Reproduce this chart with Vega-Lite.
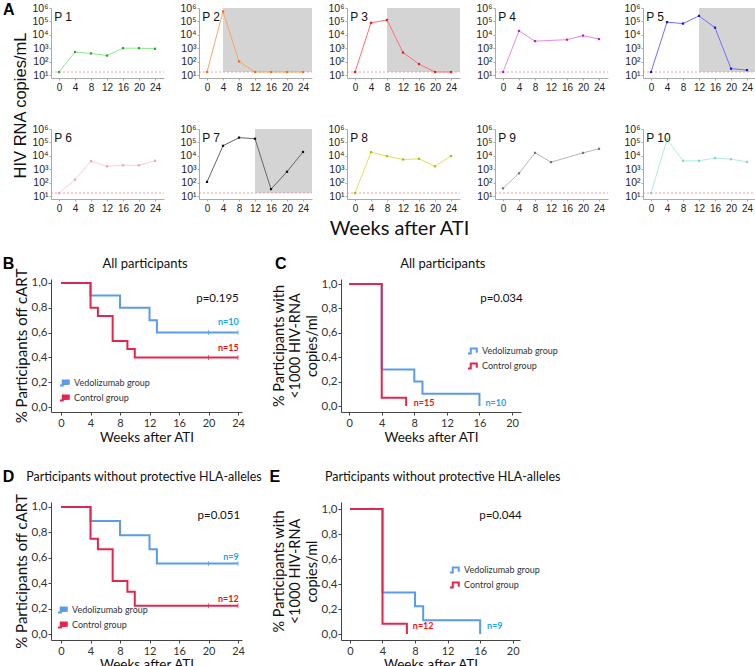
{
"$schema":"https://vega.github.io/schema/vega-lite/v6.json",
"padding":{"left":2,"top":1,"right":0,"bottom":0},
"background":"white",
"spacing":17,
"resolve":{"scale":{"color":"independent"},"legend":{"color":"independent"}},
"config":{"view":{"stroke":null},"font":"Liberation Sans","axis":{"grid":false,"labelOverlap":false,"tickCount":30}},
"datasets":{
"rna":[
{"p":"P 1","week":0,"rna":18},{"p":"P 1","week":4,"rna":550},{"p":"P 1","week":8,"rna":430},{"p":"P 1","week":12,"rna":300},{"p":"P 1","week":16,"rna":1050},{"p":"P 1","week":20,"rna":1050},{"p":"P 1","week":24,"rna":950},
{"p":"P 2","week":0,"rna":18},{"p":"P 2","week":4,"rna":550000},{"p":"P 2","week":8,"rna":110},{"p":"P 2","week":12,"rna":18},{"p":"P 2","week":16,"rna":18},{"p":"P 2","week":20,"rna":18},{"p":"P 2","week":24,"rna":18},
{"p":"P 3","week":0,"rna":18},{"p":"P 3","week":4,"rna":80000},{"p":"P 3","week":8,"rna":130000},{"p":"P 3","week":12,"rna":500},{"p":"P 3","week":16,"rna":70},{"p":"P 3","week":20,"rna":18},{"p":"P 3","week":24,"rna":18},
{"p":"P 4","week":0,"rna":18},{"p":"P 4","week":4,"rna":20000},{"p":"P 4","week":8,"rna":3500},{"p":"P 4","week":16,"rna":4500},{"p":"P 4","week":20,"rna":9000},{"p":"P 4","week":24,"rna":5000},
{"p":"P 5","week":0,"rna":18},{"p":"P 5","week":4,"rna":90000},{"p":"P 5","week":8,"rna":70000},{"p":"P 5","week":12,"rna":260000},{"p":"P 5","week":16,"rna":35000},{"p":"P 5","week":20,"rna":32},{"p":"P 5","week":24,"rna":25},
{"p":"P 6","week":0,"rna":18},{"p":"P 6","week":4,"rna":175},{"p":"P 6","week":8,"rna":4100},{"p":"P 6","week":12,"rna":1700},{"p":"P 6","week":16,"rna":2050},{"p":"P 6","week":20,"rna":2050},{"p":"P 6","week":24,"rna":4400},
{"p":"P 7","week":0,"rna":120},{"p":"P 7","week":4,"rna":57000},{"p":"P 7","week":8,"rna":230000},{"p":"P 7","week":12,"rna":190000},{"p":"P 7","week":16,"rna":35},{"p":"P 7","week":20,"rna":680},{"p":"P 7","week":24,"rna":20000},
{"p":"P 8","week":0,"rna":18},{"p":"P 8","week":4,"rna":19000},{"p":"P 8","week":8,"rna":9800},{"p":"P 8","week":12,"rna":5500},{"p":"P 8","week":16,"rna":6200},{"p":"P 8","week":20,"rna":1700},{"p":"P 8","week":24,"rna":9800},
{"p":"P 9","week":0,"rna":40},{"p":"P 9","week":4,"rna":520},{"p":"P 9","week":8,"rna":17000},{"p":"P 9","week":12,"rna":3500},{"p":"P 9","week":20,"rna":17000},{"p":"P 9","week":24,"rna":34000},
{"p":"P 10","week":0,"rna":18},{"p":"P 10","week":4,"rna":170000},{"p":"P 10","week":8,"rna":4400},{"p":"P 10","week":12,"rna":4400},{"p":"P 10","week":16,"rna":7000},{"p":"P 10","week":20,"rna":5800},{"p":"P 10","week":24,"rna":3700}
],
"shade":[{"p":"P 2","week":4},{"p":"P 3","week":8},{"p":"P 5","week":12},{"p":"P 7","week":12}],
"km":[
{"panel":"B","group":"Vedolizumab group","week":0,"surv":1},{"panel":"B","group":"Vedolizumab group","week":4,"surv":0.9},{"panel":"B","group":"Vedolizumab group","week":8,"surv":0.8},{"panel":"B","group":"Vedolizumab group","week":12,"surv":0.7},{"panel":"B","group":"Vedolizumab group","week":13,"surv":0.6},{"panel":"B","group":"Vedolizumab group","week":24,"surv":0.6},
{"panel":"B","group":"Control group","week":0,"surv":1},{"panel":"B","group":"Control group","week":4,"surv":0.8},{"panel":"B","group":"Control group","week":5,"surv":0.733},{"panel":"B","group":"Control group","week":7,"surv":0.533},{"panel":"B","group":"Control group","week":9,"surv":0.467},{"panel":"B","group":"Control group","week":10,"surv":0.4},{"panel":"B","group":"Control group","week":24,"surv":0.4},
{"panel":"C","group":"Vedolizumab group","week":0,"surv":1},{"panel":"C","group":"Vedolizumab group","week":4,"surv":0.3},{"panel":"C","group":"Vedolizumab group","week":8,"surv":0.2},{"panel":"C","group":"Vedolizumab group","week":9,"surv":0.1},{"panel":"C","group":"Vedolizumab group","week":16,"surv":0},
{"panel":"C","group":"Control group","week":0,"surv":1},{"panel":"C","group":"Control group","week":4,"surv":0.067},{"panel":"C","group":"Control group","week":7,"surv":0},
{"panel":"D","group":"Vedolizumab group","week":0,"surv":1},{"panel":"D","group":"Vedolizumab group","week":4,"surv":0.889},{"panel":"D","group":"Vedolizumab group","week":8,"surv":0.778},{"panel":"D","group":"Vedolizumab group","week":12,"surv":0.667},{"panel":"D","group":"Vedolizumab group","week":13,"surv":0.556},{"panel":"D","group":"Vedolizumab group","week":24,"surv":0.556},
{"panel":"D","group":"Control group","week":0,"surv":1},{"panel":"D","group":"Control group","week":4,"surv":0.75},{"panel":"D","group":"Control group","week":5,"surv":0.667},{"panel":"D","group":"Control group","week":7,"surv":0.417},{"panel":"D","group":"Control group","week":9,"surv":0.333},{"panel":"D","group":"Control group","week":10,"surv":0.222},{"panel":"D","group":"Control group","week":24,"surv":0.222},
{"panel":"E","group":"Vedolizumab group","week":0,"surv":1},{"panel":"E","group":"Vedolizumab group","week":4,"surv":0.333},{"panel":"E","group":"Vedolizumab group","week":8,"surv":0.222},{"panel":"E","group":"Vedolizumab group","week":9,"surv":0.111},{"panel":"E","group":"Vedolizumab group","week":16,"surv":0},
{"panel":"E","group":"Control group","week":0,"surv":1},{"panel":"E","group":"Control group","week":4,"surv":0.083},{"panel":"E","group":"Control group","week":7,"surv":0}
],
"censor":[
{"panel":"B","group":"Vedolizumab group","week":20,"surv":0.6},{"panel":"B","group":"Vedolizumab group","week":24,"surv":0.6},{"panel":"B","group":"Control group","week":20,"surv":0.4},{"panel":"B","group":"Control group","week":24,"surv":0.4},
{"panel":"D","group":"Vedolizumab group","week":20,"surv":0.556},{"panel":"D","group":"Vedolizumab group","week":24,"surv":0.556},{"panel":"D","group":"Control group","week":20,"surv":0.222},{"panel":"D","group":"Control group","week":24,"surv":0.222}
]
},
"vconcat":[
{"columns":5,"bounds":"flush","spacing":{"row":51,"column":35},"concat":[
  {"width":113,"height":70,"layer":[
   {"data":{"values":[{}]},"mark":{"type":"rule","color":"#f08888","strokeDash":[2,2],"strokeWidth":0.8},"encoding":{"y":{"datum":18,"type":"quantitative"},"x":{"value":0},"x2":{"value":"width"}}},
   {"data":{"name":"rna"},"transform":[{"filter":"datum.p=='P 1'"}],"mark":{"type":"line","color":"#90e890","strokeWidth":1,"point":{"filled":true,"size":5,"shape":"square","color":"#22aa22"}},
    "encoding":{"x":{"field":"week","type":"quantitative","scale":{"domain":[-2,26.25],"nice":false,"zero":false},"axis":{"values":[0,4,8,12,16,20,24],"tickCount":30,"title":null,"labelFontSize":10,"labelColor":"#222","tickSize":2,"tickColor":"#aaa","domainColor":"#aaa","labelPadding":2,"labelOverlap":false,"labelFlush":false}},
     "y":{"field":"rna","type":"quantitative","scale":{"type":"log","domain":[6.5,1000000],"nice":false},"axis":{"values":[10,100,1000,10000,100000,1000000],"tickCount":30,"labelExpr":"'10' + ['⁰','¹','²','³','⁴','⁵','⁶'][round(log(datum.value)/LN10)]","labelFontSize":10.5,"labelColor":"#222","tickSize":2,"tickColor":"#aaa","domainColor":"#aaa","labelPadding":1,"labelOverlap":false,"title":"HIV RNA copies/mL","titleFont":"Liberation Sans","titleFontSize":16.5,"titleFontWeight":"normal","titleColor":"#111","titleX":-31,"titleY":97,"titleAngle":270,"titleAlign":"center","titleBaseline":"middle"}}}},
   {"data":{"values":[{}]},"mark":{"type":"text","text":"P 1","align":"left","baseline":"middle","fontSize":12,"color":"#111"},"encoding":{"x":{"datum":-1.2},"y":{"datum":200000}}},
   {"data":{"values":[{}]},"mark":{"type":"text","text":"A","align":"left","baseline":"middle","fontSize":16,"fontWeight":"bold","color":"#000"},"encoding":{"x":{"datum":-14},"y":{"datum":770000}}}
  ]},
  {"width":113,"height":70,"layer":[
   {"data":{"name":"shade"},"transform":[{"filter":"datum.p=='P 2'"}],"mark":{"type":"rect","color":"#d4d4d4"},"encoding":{"x":{"field":"week","type":"quantitative"},"x2":{"value":"width"},"y":{"datum":1000000,"type":"quantitative"},"y2":{"datum":18}}},
   {"data":{"values":[{}]},"mark":{"type":"rule","color":"#f08888","strokeDash":[2,2],"strokeWidth":0.8},"encoding":{"y":{"datum":18,"type":"quantitative"},"x":{"value":0},"x2":{"value":"width"}}},
   {"data":{"name":"rna"},"transform":[{"filter":"datum.p=='P 2'"}],"mark":{"type":"line","color":"#f5a66a","strokeWidth":1,"point":{"filled":true,"size":5,"shape":"square","color":"#f07020"}},
    "encoding":{"x":{"field":"week","type":"quantitative","scale":{"domain":[-2,26.25],"nice":false,"zero":false},"axis":{"values":[0,4,8,12,16,20,24],"tickCount":30,"title":null,"labelFontSize":10,"labelColor":"#222","tickSize":2,"tickColor":"#aaa","domainColor":"#aaa","labelPadding":2,"labelOverlap":false,"labelFlush":false}},
     "y":{"field":"rna","type":"quantitative","scale":{"type":"log","domain":[6.5,1000000],"nice":false},"axis":{"values":[10,100,1000,10000,100000,1000000],"tickCount":30,"labelExpr":"'10' + ['⁰','¹','²','³','⁴','⁵','⁶'][round(log(datum.value)/LN10)]","labelFontSize":10.5,"labelColor":"#222","tickSize":2,"tickColor":"#aaa","domainColor":"#aaa","labelPadding":1,"labelOverlap":false,"title":null}}}},
   {"data":{"values":[{}]},"mark":{"type":"text","text":"P 2","align":"left","baseline":"middle","fontSize":12,"color":"#111"},"encoding":{"x":{"datum":-1.2},"y":{"datum":200000}}}
  ]},
  {"width":113,"height":70,"layer":[
   {"data":{"name":"shade"},"transform":[{"filter":"datum.p=='P 3'"}],"mark":{"type":"rect","color":"#d4d4d4"},"encoding":{"x":{"field":"week","type":"quantitative"},"x2":{"value":"width"},"y":{"datum":1000000,"type":"quantitative"},"y2":{"datum":18}}},
   {"data":{"values":[{}]},"mark":{"type":"rule","color":"#f08888","strokeDash":[2,2],"strokeWidth":0.8},"encoding":{"y":{"datum":18,"type":"quantitative"},"x":{"value":0},"x2":{"value":"width"}}},
   {"data":{"name":"rna"},"transform":[{"filter":"datum.p=='P 3'"}],"mark":{"type":"line","color":"#ff7070","strokeWidth":1,"point":{"filled":true,"size":5,"shape":"square","color":"#e02020"}},
    "encoding":{"x":{"field":"week","type":"quantitative","scale":{"domain":[-2,26.25],"nice":false,"zero":false},"axis":{"values":[0,4,8,12,16,20,24],"tickCount":30,"title":null,"labelFontSize":10,"labelColor":"#222","tickSize":2,"tickColor":"#aaa","domainColor":"#aaa","labelPadding":2,"labelOverlap":false,"labelFlush":false}},
     "y":{"field":"rna","type":"quantitative","scale":{"type":"log","domain":[6.5,1000000],"nice":false},"axis":{"values":[10,100,1000,10000,100000,1000000],"tickCount":30,"labelExpr":"'10' + ['⁰','¹','²','³','⁴','⁵','⁶'][round(log(datum.value)/LN10)]","labelFontSize":10.5,"labelColor":"#222","tickSize":2,"tickColor":"#aaa","domainColor":"#aaa","labelPadding":1,"labelOverlap":false,"title":null}}}},
   {"data":{"values":[{}]},"mark":{"type":"text","text":"P 3","align":"left","baseline":"middle","fontSize":12,"color":"#111"},"encoding":{"x":{"datum":-1.2},"y":{"datum":200000}}}
  ]},
  {"width":113,"height":70,"layer":[
   {"data":{"values":[{}]},"mark":{"type":"rule","color":"#f08888","strokeDash":[2,2],"strokeWidth":0.8},"encoding":{"y":{"datum":18,"type":"quantitative"},"x":{"value":0},"x2":{"value":"width"}}},
   {"data":{"name":"rna"},"transform":[{"filter":"datum.p=='P 4'"}],"mark":{"type":"line","color":"#e88ae8","strokeWidth":1,"point":{"filled":true,"size":5,"shape":"square","color":"#c020c0"}},
    "encoding":{"x":{"field":"week","type":"quantitative","scale":{"domain":[-2,26.25],"nice":false,"zero":false},"axis":{"values":[0,4,8,12,16,20,24],"tickCount":30,"title":null,"labelFontSize":10,"labelColor":"#222","tickSize":2,"tickColor":"#aaa","domainColor":"#aaa","labelPadding":2,"labelOverlap":false,"labelFlush":false}},
     "y":{"field":"rna","type":"quantitative","scale":{"type":"log","domain":[6.5,1000000],"nice":false},"axis":{"values":[10,100,1000,10000,100000,1000000],"tickCount":30,"labelExpr":"'10' + ['⁰','¹','²','³','⁴','⁵','⁶'][round(log(datum.value)/LN10)]","labelFontSize":10.5,"labelColor":"#222","tickSize":2,"tickColor":"#aaa","domainColor":"#aaa","labelPadding":1,"labelOverlap":false,"title":null}}}},
   {"data":{"values":[{}]},"mark":{"type":"text","text":"P 4","align":"left","baseline":"middle","fontSize":12,"color":"#111"},"encoding":{"x":{"datum":-1.2},"y":{"datum":200000}}}
  ]},
  {"width":113,"height":70,"layer":[
   {"data":{"name":"shade"},"transform":[{"filter":"datum.p=='P 5'"}],"mark":{"type":"rect","color":"#d4d4d4"},"encoding":{"x":{"field":"week","type":"quantitative"},"x2":{"value":"width"},"y":{"datum":1000000,"type":"quantitative"},"y2":{"datum":18}}},
   {"data":{"values":[{}]},"mark":{"type":"rule","color":"#f08888","strokeDash":[2,2],"strokeWidth":0.8},"encoding":{"y":{"datum":18,"type":"quantitative"},"x":{"value":0},"x2":{"value":"width"}}},
   {"data":{"name":"rna"},"transform":[{"filter":"datum.p=='P 5'"}],"mark":{"type":"line","color":"#7070ff","strokeWidth":1,"point":{"filled":true,"size":5,"shape":"square","color":"#1515d0"}},
    "encoding":{"x":{"field":"week","type":"quantitative","scale":{"domain":[-2,26.25],"nice":false,"zero":false},"axis":{"values":[0,4,8,12,16,20,24],"tickCount":30,"title":null,"labelFontSize":10,"labelColor":"#222","tickSize":2,"tickColor":"#aaa","domainColor":"#aaa","labelPadding":2,"labelOverlap":false,"labelFlush":false}},
     "y":{"field":"rna","type":"quantitative","scale":{"type":"log","domain":[6.5,1000000],"nice":false},"axis":{"values":[10,100,1000,10000,100000,1000000],"tickCount":30,"labelExpr":"'10' + ['⁰','¹','²','³','⁴','⁵','⁶'][round(log(datum.value)/LN10)]","labelFontSize":10.5,"labelColor":"#222","tickSize":2,"tickColor":"#aaa","domainColor":"#aaa","labelPadding":1,"labelOverlap":false,"title":null}}}},
   {"data":{"values":[{}]},"mark":{"type":"text","text":"P 5","align":"left","baseline":"middle","fontSize":12,"color":"#111"},"encoding":{"x":{"datum":-1.2},"y":{"datum":200000}}}
  ]},
  {"width":113,"height":70,"layer":[
   {"data":{"values":[{}]},"mark":{"type":"rule","color":"#f08888","strokeDash":[2,2],"strokeWidth":0.8},"encoding":{"y":{"datum":18,"type":"quantitative"},"x":{"value":0},"x2":{"value":"width"}}},
   {"data":{"name":"rna"},"transform":[{"filter":"datum.p=='P 6'"}],"mark":{"type":"line","color":"#f9cede","strokeWidth":1,"point":{"filled":true,"size":5,"shape":"square","color":"#f0a0c0"}},
    "encoding":{"x":{"field":"week","type":"quantitative","scale":{"domain":[-2,26.25],"nice":false,"zero":false},"axis":{"values":[0,4,8,12,16,20,24],"tickCount":30,"title":null,"labelFontSize":10,"labelColor":"#222","tickSize":2,"tickColor":"#aaa","domainColor":"#aaa","labelPadding":2,"labelOverlap":false,"labelFlush":false}},
     "y":{"field":"rna","type":"quantitative","scale":{"type":"log","domain":[6.5,1000000],"nice":false},"axis":{"values":[10,100,1000,10000,100000,1000000],"tickCount":30,"labelExpr":"'10' + ['⁰','¹','²','³','⁴','⁵','⁶'][round(log(datum.value)/LN10)]","labelFontSize":10.5,"labelColor":"#222","tickSize":2,"tickColor":"#aaa","domainColor":"#aaa","labelPadding":1,"labelOverlap":false,"title":null}}}},
   {"data":{"values":[{}]},"mark":{"type":"text","text":"P 6","align":"left","baseline":"middle","fontSize":12,"color":"#111"},"encoding":{"x":{"datum":-1.2},"y":{"datum":200000}}}
  ]},
  {"width":113,"height":70,"layer":[
   {"data":{"name":"shade"},"transform":[{"filter":"datum.p=='P 7'"}],"mark":{"type":"rect","color":"#d4d4d4"},"encoding":{"x":{"field":"week","type":"quantitative"},"x2":{"value":"width"},"y":{"datum":1000000,"type":"quantitative"},"y2":{"datum":18}}},
   {"data":{"values":[{}]},"mark":{"type":"rule","color":"#f08888","strokeDash":[2,2],"strokeWidth":0.8},"encoding":{"y":{"datum":18,"type":"quantitative"},"x":{"value":0},"x2":{"value":"width"}}},
   {"data":{"name":"rna"},"transform":[{"filter":"datum.p=='P 7'"}],"mark":{"type":"line","color":"#666666","strokeWidth":1,"point":{"filled":true,"size":5,"shape":"square","color":"#111111"}},
    "encoding":{"x":{"field":"week","type":"quantitative","scale":{"domain":[-2,26.25],"nice":false,"zero":false},"axis":{"values":[0,4,8,12,16,20,24],"tickCount":30,"title":null,"labelFontSize":10,"labelColor":"#222","tickSize":2,"tickColor":"#aaa","domainColor":"#aaa","labelPadding":2,"labelOverlap":false,"labelFlush":false}},
     "y":{"field":"rna","type":"quantitative","scale":{"type":"log","domain":[6.5,1000000],"nice":false},"axis":{"values":[10,100,1000,10000,100000,1000000],"tickCount":30,"labelExpr":"'10' + ['⁰','¹','²','³','⁴','⁵','⁶'][round(log(datum.value)/LN10)]","labelFontSize":10.5,"labelColor":"#222","tickSize":2,"tickColor":"#aaa","domainColor":"#aaa","labelPadding":1,"labelOverlap":false,"title":null}}}},
   {"data":{"values":[{}]},"mark":{"type":"text","text":"P 7","align":"left","baseline":"middle","fontSize":12,"color":"#111"},"encoding":{"x":{"datum":-1.2},"y":{"datum":200000}}}
  ]},
  {"width":113,"height":70,"layer":[
   {"data":{"values":[{}]},"mark":{"type":"rule","color":"#f08888","strokeDash":[2,2],"strokeWidth":0.8},"encoding":{"y":{"datum":18,"type":"quantitative"},"x":{"value":0},"x2":{"value":"width"}}},
   {"data":{"name":"rna"},"transform":[{"filter":"datum.p=='P 8'"}],"mark":{"type":"line","color":"#e0e060","strokeWidth":1,"point":{"filled":true,"size":5,"shape":"square","color":"#b8b800"}},
    "encoding":{"x":{"field":"week","type":"quantitative","scale":{"domain":[-2,26.25],"nice":false,"zero":false},"axis":{"values":[0,4,8,12,16,20,24],"tickCount":30,"labelFontSize":10,"labelColor":"#222","tickSize":2,"tickColor":"#aaa","domainColor":"#aaa","labelPadding":2,"labelOverlap":false,"labelFlush":false,"title":"Weeks after ATI","titleFont":"Lato","titleFontSize":20,"titleFontWeight":"normal","titleColor":"#111","titleX":52,"titleY":29,"titleBaseline":"middle","titleAlign":"center"}},
     "y":{"field":"rna","type":"quantitative","scale":{"type":"log","domain":[6.5,1000000],"nice":false},"axis":{"values":[10,100,1000,10000,100000,1000000],"tickCount":30,"labelExpr":"'10' + ['⁰','¹','²','³','⁴','⁵','⁶'][round(log(datum.value)/LN10)]","labelFontSize":10.5,"labelColor":"#222","tickSize":2,"tickColor":"#aaa","domainColor":"#aaa","labelPadding":1,"labelOverlap":false,"title":null}}}},
   {"data":{"values":[{}]},"mark":{"type":"text","text":"P 8","align":"left","baseline":"middle","fontSize":12,"color":"#111"},"encoding":{"x":{"datum":-1.2},"y":{"datum":200000}}}
  ]},
  {"width":113,"height":70,"layer":[
   {"data":{"values":[{}]},"mark":{"type":"rule","color":"#f08888","strokeDash":[2,2],"strokeWidth":0.8},"encoding":{"y":{"datum":18,"type":"quantitative"},"x":{"value":0},"x2":{"value":"width"}}},
   {"data":{"name":"rna"},"transform":[{"filter":"datum.p=='P 9'"}],"mark":{"type":"line","color":"#b8b8b8","strokeWidth":1,"point":{"filled":true,"size":5,"shape":"square","color":"#777777"}},
    "encoding":{"x":{"field":"week","type":"quantitative","scale":{"domain":[-2,26.25],"nice":false,"zero":false},"axis":{"values":[0,4,8,12,16,20,24],"tickCount":30,"title":null,"labelFontSize":10,"labelColor":"#222","tickSize":2,"tickColor":"#aaa","domainColor":"#aaa","labelPadding":2,"labelOverlap":false,"labelFlush":false}},
     "y":{"field":"rna","type":"quantitative","scale":{"type":"log","domain":[6.5,1000000],"nice":false},"axis":{"values":[10,100,1000,10000,100000,1000000],"tickCount":30,"labelExpr":"'10' + ['⁰','¹','²','³','⁴','⁵','⁶'][round(log(datum.value)/LN10)]","labelFontSize":10.5,"labelColor":"#222","tickSize":2,"tickColor":"#aaa","domainColor":"#aaa","labelPadding":1,"labelOverlap":false,"title":null}}}},
   {"data":{"values":[{}]},"mark":{"type":"text","text":"P 9","align":"left","baseline":"middle","fontSize":12,"color":"#111"},"encoding":{"x":{"datum":-1.2},"y":{"datum":200000}}}
  ]},
  {"width":113,"height":70,"layer":[
   {"data":{"values":[{}]},"mark":{"type":"rule","color":"#f08888","strokeDash":[2,2],"strokeWidth":0.8},"encoding":{"y":{"datum":18,"type":"quantitative"},"x":{"value":0},"x2":{"value":"width"}}},
   {"data":{"name":"rna"},"transform":[{"filter":"datum.p=='P 10'"}],"mark":{"type":"line","color":"#b0ece4","strokeWidth":1,"point":{"filled":true,"size":5,"shape":"square","color":"#80d8cc"}},
    "encoding":{"x":{"field":"week","type":"quantitative","scale":{"domain":[-2,26.25],"nice":false,"zero":false},"axis":{"values":[0,4,8,12,16,20,24],"tickCount":30,"title":null,"labelFontSize":10,"labelColor":"#222","tickSize":2,"tickColor":"#aaa","domainColor":"#aaa","labelPadding":2,"labelOverlap":false,"labelFlush":false}},
     "y":{"field":"rna","type":"quantitative","scale":{"type":"log","domain":[6.5,1000000],"nice":false},"axis":{"values":[10,100,1000,10000,100000,1000000],"tickCount":30,"labelExpr":"'10' + ['⁰','¹','²','³','⁴','⁵','⁶'][round(log(datum.value)/LN10)]","labelFontSize":10.5,"labelColor":"#222","tickSize":2,"tickColor":"#aaa","domainColor":"#aaa","labelPadding":1,"labelOverlap":false,"title":null}}}},
   {"data":{"values":[{}]},"mark":{"type":"text","text":"P 10","align":"left","baseline":"middle","fontSize":12,"color":"#111"},"encoding":{"x":{"datum":-1.2},"y":{"datum":200000}}}
  ]}
]},
{"spacing":24,"resolve":{"scale":{"color":"independent"},"legend":{"color":"independent"}},"vconcat":[
 {"bounds":"flush","spacing":99,"resolve":{"scale":{"color":"independent"},"legend":{"color":"independent"}},"hconcat":[
  {"width":191,"height":133,
   "layer":[
   {"data":{"name":"km"},"transform":[{"filter":"datum.panel=='B' && datum.group=='Vedolizumab group'"}],"mark":{"type":"line","interpolate":"step-after","strokeWidth":2},
    "encoding":{"x":{"field":"week","type":"quantitative","scale":{"domain":[-1.36,24.54],"nice":false,"zero":false},"axis":{"values":[0,4,8,12,16,20,24],"tickCount":30,"title":"Weeks after ATI","titleFont":"Lato","titleFontSize":13.5,"titleFontWeight":"normal","titleColor":"#111","titleX":95.5,"titleY":25,"titleBaseline":"middle","labelFont":"Lato","labelFontSize":11,"labelColor":"#333","tickSize":3,"tickColor":"#444","domainColor":"#444","labelPadding":2,"labelOverlap":false}},
     "y":{"field":"surv","type":"quantitative","scale":{"domain":[-0.04,1.032],"nice":false,"zero":false},"axis":{"values":[0,0.2,0.4,0.6,0.8,1],"tickCount":30,"labelExpr":"replace(format(datum.value,'.1f'),'.',',')","title":"% Participants off cART","titleFont":"Lato","titleFontSize":15,"titleFontWeight":"normal","titleColor":"#111","titleX":-30,"titleY":66.5,"titleAngle":270,"titleAlign":"center","titleBaseline":"middle","labelFont":"Lato","labelFontSize":11.5,"labelColor":"#333","tickSize":3,"tickColor":"#444","domainColor":"#444","labelPadding":1,"labelOverlap":false}},
     "color":{"field":"group","type":"nominal","scale":{"domain":["Vedolizumab group","Control group"],"range":["#5b9bea","#e3264f"]},"legend":{"orient":"none","legendX":8,"legendY":98,"title":null,"symbolType":"M-1,0.5L-0.45,0.5L-0.45,-0.5L0.75,-0.5L0.75,0.35","symbolSize":100,"symbolStrokeWidth":2,"symbolFillColor":"transparent","labelFont":"Lato","labelFontSize":9,"labelColor":"#333","labelOffset":3,"rowPadding":1,"padding":0,"encode":{"symbols":{"update":{"fill":{"value":"transparent"}}}}}}}},
   {"data":{"name":"km"},"transform":[{"filter":"datum.panel=='B' && datum.group=='Control group'"}],"mark":{"type":"line","interpolate":"step-after","strokeWidth":2},
    "encoding":{"x":{"field":"week","type":"quantitative"},"y":{"field":"surv","type":"quantitative"},"color":{"field":"group","type":"nominal"}}},
   {"data":{"name":"censor"},"transform":[{"filter":"datum.panel=='B'"}],"mark":{"type":"tick","orient":"vertical","size":5,"thickness":1},
    "encoding":{"x":{"field":"week","type":"quantitative"},"y":{"field":"surv","type":"quantitative"},"color":{"field":"group","type":"nominal"}}},
   {"data":{"values":[{}]},"mark":{"type":"text","text":"All participants","align":"center","baseline":"middle","font":"Lato","fontSize":13,"color":"#111"},"encoding":{"x":{"datum":11.4},"y":{"datum":1.149}}},
   {"data":{"values":[{}]},"mark":{"type":"text","text":"p=0.195","align":"right","baseline":"middle","font":"Lato","fontSize":11.5,"color":"#111"},"encoding":{"x":{"datum":24.1},"y":{"datum":0.871}}},
   {"data":{"values":[{}]},"mark":{"type":"text","text":"n=10","align":"right","baseline":"middle","font":"Lato","fontSize":9,"fontWeight":"bold","color":"#1aa7ec"},"encoding":{"x":{"datum":24.1},"y":{"datum":0.685}}},
   {"data":{"values":[{}]},"mark":{"type":"text","text":"n=15","align":"right","baseline":"middle","font":"Lato","fontSize":9,"fontWeight":"bold","color":"#ee1111"},"encoding":{"x":{"datum":24.1},"y":{"datum":0.476}}},
   {"data":{"values":[{}]},"mark":{"type":"text","text":"B","align":"left","baseline":"middle","fontSize":16,"fontWeight":"bold","color":"#000"},"encoding":{"x":{"datum":-7.9},"y":{"datum":1.153}}}
  ]},
  {"width":180,"height":133,
   "layer":[
   {"data":{"name":"km"},"transform":[{"filter":"datum.panel=='C' && datum.group=='Vedolizumab group'"}],"mark":{"type":"line","interpolate":"step-after","strokeWidth":2},
    "encoding":{"x":{"field":"week","type":"quantitative","scale":{"domain":[-1,21.1],"nice":false,"zero":false},"axis":{"values":[0,4,8,12,16,20],"tickCount":30,"title":"Weeks after ATI","titleFont":"Lato","titleFontSize":13.5,"titleFontWeight":"normal","titleColor":"#111","titleX":90,"titleY":25,"titleBaseline":"middle","labelFont":"Lato","labelFontSize":11,"labelColor":"#333","tickSize":3,"tickColor":"#444","domainColor":"#444","labelPadding":2,"labelOverlap":false}},
     "y":{"field":"surv","type":"quantitative","scale":{"domain":[-0.049,1.041],"nice":false,"zero":false},"axis":{"values":[0,0.2,0.4,0.6,0.8,1],"tickCount":30,"labelExpr":"replace(format(datum.value,'.1f'),'.',',')","title":["% Participants with","<1000 HIV-RNA","copies/ml"],"titleFont":"Lato","titleFontSize":14.5,"titleLineHeight":16.5,"titleFontWeight":"normal","titleColor":"#111","titleX":-62,"titleY":66.5,"titleAngle":270,"titleAlign":"center","titleBaseline":"middle","labelFont":"Lato","labelFontSize":11.5,"labelColor":"#333","tickSize":3,"tickColor":"#444","domainColor":"#444","labelPadding":1,"labelOverlap":false}},
     "color":{"field":"group","type":"nominal","scale":{"domain":["Vedolizumab group","Control group"],"range":["#5b9bea","#e3264f"]},"legend":{"orient":"none","legendX":126,"legendY":66,"title":null,"symbolType":"M-1,0.5L-0.45,0.5L-0.45,-0.5L0.75,-0.5L0.75,0.35","symbolSize":100,"symbolStrokeWidth":2,"symbolFillColor":"transparent","labelFont":"Lato","labelFontSize":9,"labelColor":"#333","labelOffset":3,"rowPadding":1,"padding":0,"encode":{"symbols":{"update":{"fill":{"value":"transparent"}}}}}}}},
   {"data":{"name":"km"},"transform":[{"filter":"datum.panel=='C' && datum.group=='Control group'"}],"mark":{"type":"line","interpolate":"step-after","strokeWidth":2},
    "encoding":{"x":{"field":"week","type":"quantitative"},"y":{"field":"surv","type":"quantitative"},"color":{"field":"group","type":"nominal"}}},
   {"data":{"values":[{}]},"mark":{"type":"text","text":"All participants","align":"center","baseline":"middle","font":"Lato","fontSize":13,"color":"#111"},"encoding":{"x":{"datum":11.5},"y":{"datum":1.16}}},
   {"data":{"values":[{}]},"mark":{"type":"text","text":"p=0.034","align":"center","baseline":"middle","font":"Lato","fontSize":11.5,"color":"#111"},"encoding":{"x":{"datum":18.7},"y":{"datum":0.877}}},
   {"data":{"values":[{}]},"mark":{"type":"text","text":"n=15","align":"center","baseline":"middle","font":"Lato","fontSize":9,"fontWeight":"bold","color":"#ee1111"},"encoding":{"x":{"datum":9.2},"y":{"datum":0.025}}},
   {"data":{"values":[{}]},"mark":{"type":"text","text":"n=10","align":"center","baseline":"middle","font":"Lato","fontSize":9,"fontWeight":"bold","color":"#1aa7ec"},"encoding":{"x":{"datum":18.0},"y":{"datum":0.025}}},
   {"data":{"values":[{}]},"mark":{"type":"text","text":"C","align":"left","baseline":"middle","fontSize":16,"fontWeight":"bold","color":"#000"},"encoding":{"x":{"datum":-9.1},"y":{"datum":1.164}}}
  ]}
 ]},
 {"bounds":"flush","spacing":99,"resolve":{"scale":{"color":"independent"},"legend":{"color":"independent"}},"hconcat":[
  {"width":191,"height":138,
   "layer":[
   {"data":{"name":"km"},"transform":[{"filter":"datum.panel=='D' && datum.group=='Vedolizumab group'"}],"mark":{"type":"line","interpolate":"step-after","strokeWidth":2},
    "encoding":{"x":{"field":"week","type":"quantitative","scale":{"domain":[-1.36,24.54],"nice":false,"zero":false},"axis":{"values":[0,4,8,12,16,20,24],"tickCount":30,"title":"Weeks after ATI","titleFont":"Lato","titleFontSize":13.5,"titleFontWeight":"normal","titleColor":"#111","titleX":95.5,"titleY":24,"titleBaseline":"middle","labelFont":"Lato","labelFontSize":11,"labelColor":"#333","tickSize":3,"tickColor":"#444","domainColor":"#444","labelPadding":2,"labelOverlap":false}},
     "y":{"field":"surv","type":"quantitative","scale":{"domain":[-0.047,1.039],"nice":false,"zero":false},"axis":{"values":[0,0.2,0.4,0.6,0.8,1],"tickCount":30,"labelExpr":"replace(format(datum.value,'.1f'),'.',',')","title":"% Participants off cART","titleFont":"Lato","titleFontSize":15,"titleFontWeight":"normal","titleColor":"#111","titleX":-30,"titleY":69,"titleAngle":270,"titleAlign":"center","titleBaseline":"middle","labelFont":"Lato","labelFontSize":11.5,"labelColor":"#333","tickSize":3,"tickColor":"#444","domainColor":"#444","labelPadding":1,"labelOverlap":false}},
     "color":{"field":"group","type":"nominal","scale":{"domain":["Vedolizumab group","Control group"],"range":["#5b9bea","#e3264f"]},"legend":{"orient":"none","legendX":6,"legendY":102,"title":null,"symbolType":"M-1,0.5L-0.45,0.5L-0.45,-0.5L0.75,-0.5L0.75,0.35","symbolSize":100,"symbolStrokeWidth":2,"symbolFillColor":"transparent","labelFont":"Lato","labelFontSize":9,"labelColor":"#333","labelOffset":3,"rowPadding":1,"padding":0,"encode":{"symbols":{"update":{"fill":{"value":"transparent"}}}}}}}},
   {"data":{"name":"km"},"transform":[{"filter":"datum.panel=='D' && datum.group=='Control group'"}],"mark":{"type":"line","interpolate":"step-after","strokeWidth":2},
    "encoding":{"x":{"field":"week","type":"quantitative"},"y":{"field":"surv","type":"quantitative"},"color":{"field":"group","type":"nominal"}}},
   {"data":{"name":"censor"},"transform":[{"filter":"datum.panel=='D'"}],"mark":{"type":"tick","orient":"vertical","size":5,"thickness":1},
    "encoding":{"x":{"field":"week","type":"quantitative"},"y":{"field":"surv","type":"quantitative"},"color":{"field":"group","type":"nominal"}}},
   {"data":{"values":[{}]},"mark":{"type":"text","text":"Participants without protective HLA-alleles","align":"center","baseline":"middle","font":"Lato","fontSize":12.5,"color":"#111"},"encoding":{"x":{"datum":11.25},"y":{"datum":1.236}}},
   {"data":{"values":[{}]},"mark":{"type":"text","text":"p=0.051","align":"center","baseline":"middle","font":"Lato","fontSize":11.5,"color":"#111"},"encoding":{"x":{"datum":21.4},"y":{"datum":0.929}}},
   {"data":{"values":[{}]},"mark":{"type":"text","text":"n=9","align":"right","baseline":"middle","font":"Lato","fontSize":9,"fontWeight":"bold","color":"#1aa7ec"},"encoding":{"x":{"datum":24.1},"y":{"datum":0.606}}},
   {"data":{"values":[{}]},"mark":{"type":"text","text":"n=12","align":"right","baseline":"middle","font":"Lato","fontSize":9,"fontWeight":"bold","color":"#ee1111"},"encoding":{"x":{"datum":24.1},"y":{"datum":0.276}}},
   {"data":{"values":[{}]},"mark":{"type":"text","text":"D","align":"left","baseline":"middle","fontSize":16,"fontWeight":"bold","color":"#000"},"encoding":{"x":{"datum":-7.9},"y":{"datum":1.236}}}
  ]},
  {"width":179,"height":138,
   "layer":[
   {"data":{"name":"km"},"transform":[{"filter":"datum.panel=='E' && datum.group=='Vedolizumab group'"}],"mark":{"type":"line","interpolate":"step-after","strokeWidth":2},
    "encoding":{"x":{"field":"week","type":"quantitative","scale":{"domain":[-1.1,20.9],"nice":false,"zero":false},"axis":{"values":[0,4,8,12,16,20],"tickCount":30,"title":"Weeks after ATI","titleFont":"Lato","titleFontSize":13.5,"titleFontWeight":"normal","titleColor":"#111","titleX":89.5,"titleY":24,"titleBaseline":"middle","labelFont":"Lato","labelFontSize":11,"labelColor":"#333","tickSize":3,"tickColor":"#444","domainColor":"#444","labelPadding":2,"labelOverlap":false}},
     "y":{"field":"surv","type":"quantitative","scale":{"domain":[-0.048,1.056],"nice":false,"zero":false},"axis":{"values":[0,0.2,0.4,0.6,0.8,1],"tickCount":30,"labelExpr":"replace(format(datum.value,'.1f'),'.',',')","title":["% Participants with","<1000 HIV-RNA","copies/ml"],"titleFont":"Lato","titleFontSize":14.5,"titleLineHeight":16.5,"titleFontWeight":"normal","titleColor":"#111","titleX":-62,"titleY":69,"titleAngle":270,"titleAlign":"center","titleBaseline":"middle","labelFont":"Lato","labelFontSize":11.5,"labelColor":"#333","tickSize":3,"tickColor":"#444","domainColor":"#444","labelPadding":1,"labelOverlap":false}},
     "color":{"field":"group","type":"nominal","scale":{"domain":["Vedolizumab group","Control group"],"range":["#5b9bea","#e3264f"]},"legend":{"orient":"none","legendX":108,"legendY":62,"title":null,"symbolType":"M-1,0.5L-0.45,0.5L-0.45,-0.5L0.75,-0.5L0.75,0.35","symbolSize":100,"symbolStrokeWidth":2,"symbolFillColor":"transparent","labelFont":"Lato","labelFontSize":9,"labelColor":"#333","labelOffset":3,"rowPadding":1,"padding":0,"encode":{"symbols":{"update":{"fill":{"value":"transparent"}}}}}}}},
   {"data":{"name":"km"},"transform":[{"filter":"datum.panel=='E' && datum.group=='Control group'"}],"mark":{"type":"line","interpolate":"step-after","strokeWidth":2},
    "encoding":{"x":{"field":"week","type":"quantitative"},"y":{"field":"surv","type":"quantitative"},"color":{"field":"group","type":"nominal"}}},
   {"data":{"values":[{}]},"mark":{"type":"text","text":"Participants without protective HLA-alleles","align":"center","baseline":"middle","font":"Lato","fontSize":12.5,"color":"#111"},"encoding":{"x":{"datum":11.4},"y":{"datum":1.256}}},
   {"data":{"values":[{}]},"mark":{"type":"text","text":"p=0.044","align":"center","baseline":"middle","font":"Lato","fontSize":11.5,"color":"#111"},"encoding":{"x":{"datum":18.5},"y":{"datum":0.944}}},
   {"data":{"values":[{}]},"mark":{"type":"text","text":"n=12","align":"center","baseline":"middle","font":"Lato","fontSize":9,"fontWeight":"bold","color":"#ee1111"},"encoding":{"x":{"datum":9.0},"y":{"datum":0.064}}},
   {"data":{"values":[{}]},"mark":{"type":"text","text":"n=9","align":"center","baseline":"middle","font":"Lato","fontSize":9,"fontWeight":"bold","color":"#1aa7ec"},"encoding":{"x":{"datum":17.8},"y":{"datum":0.064}}},
   {"data":{"values":[{}]},"mark":{"type":"text","text":"E","align":"left","baseline":"middle","fontSize":16,"fontWeight":"bold","color":"#000"},"encoding":{"x":{"datum":-9.9},"y":{"datum":1.256}}}
  ]}
 ]}
]}
]
}
